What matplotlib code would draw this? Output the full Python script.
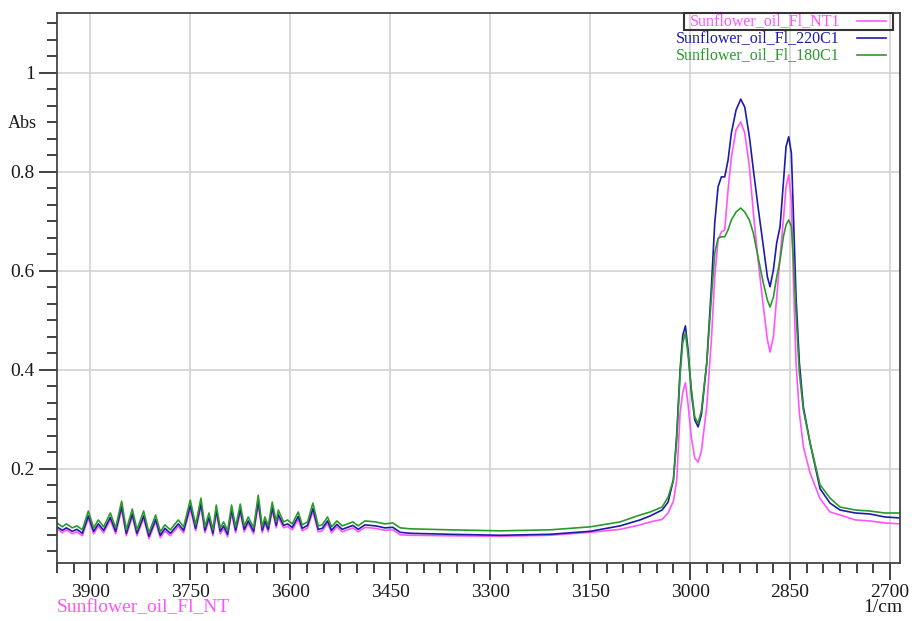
"""
FTIR overlay of sunflower oil spectra (3950 - 2685 1/cm).
"""

import matplotlib
matplotlib.use('Agg')
import matplotlib.pyplot as plt
from matplotlib.ticker import MultipleLocator, FuncFormatter
from matplotlib.patches import Rectangle
from matplotlib.lines import Line2D

plt.rcParams['font.family'] = ['Liberation Serif', 'DejaVu Serif']

# wavenumbers, noisy water-vapour region + flat baseline
wn_noise = [3950, 3942, 3936, 3927, 3920, 3912, 3903, 3895, 3888, 3880,
            3870, 3862, 3853, 3846, 3837, 3830, 3820, 3812, 3802, 3795,
            3788, 3780, 3768, 3760, 3750, 3742, 3734, 3728, 3722, 3716,
            3711, 3705, 3700, 3694, 3688, 3682, 3675, 3669, 3663, 3655,
            3648, 3642, 3638, 3633, 3627, 3621, 3618, 3610, 3604, 3597,
            3588, 3582, 3574, 3566, 3558, 3552, 3544, 3538, 3530, 3522,
            3514, 3506, 3498, 3488, 3472, 3458, 3446, 3435, 3420, 3360,
            3285, 3210, 3150, 3105]

# wavenumbers, C-H stretching region
wn_peaks = [3075, 3060, 3042, 3033, 3025, 3020, 3015, 3011, 3007, 3003,
            2998, 2993, 2988, 2983, 2975, 2968, 2963, 2958, 2953, 2948,
            2943, 2938, 2931, 2924, 2918, 2911, 2905, 2898, 2890, 2884,
            2880, 2875, 2870, 2865, 2860, 2856, 2852, 2848, 2845, 2841,
            2836, 2830, 2820, 2805, 2790, 2775, 2752, 2730, 2708, 2685]

nt_noise = [0.079, 0.071, 0.077, 0.069, 0.073, 0.065, 0.100, 0.069, 0.084, 0.071,
            0.097, 0.069, 0.118, 0.065, 0.104, 0.065, 0.100, 0.059, 0.093, 0.061,
            0.075, 0.065, 0.084, 0.071, 0.120, 0.075, 0.124, 0.071, 0.097, 0.065,
            0.111, 0.069, 0.080, 0.063, 0.111, 0.071, 0.112, 0.073, 0.090, 0.069,
            0.129, 0.071, 0.090, 0.073, 0.116, 0.081, 0.102, 0.081, 0.084, 0.077,
            0.098, 0.075, 0.081, 0.114, 0.073, 0.075, 0.090, 0.071, 0.083, 0.073,
            0.077, 0.081, 0.073, 0.082, 0.080, 0.076, 0.077, 0.067, 0.066, 0.065,
            0.064, 0.066, 0.072, 0.078]
nt_peaks = [0.087, 0.093, 0.098, 0.111, 0.135, 0.178, 0.313, 0.355, 0.374, 0.330,
            0.262, 0.222, 0.214, 0.236, 0.326, 0.461, 0.588, 0.663, 0.679, 0.683,
            0.764, 0.830, 0.885, 0.901, 0.879, 0.811, 0.717, 0.622, 0.527, 0.461,
            0.436, 0.467, 0.547, 0.628, 0.703, 0.770, 0.794, 0.743, 0.582, 0.414,
            0.313, 0.245, 0.192, 0.140, 0.113, 0.107, 0.097, 0.095, 0.091, 0.089]

c220_noise = [0.083, 0.076, 0.081, 0.074, 0.078, 0.070, 0.105, 0.074, 0.089, 0.076,
              0.102, 0.074, 0.124, 0.070, 0.109, 0.070, 0.105, 0.064, 0.098, 0.066,
              0.080, 0.070, 0.089, 0.076, 0.126, 0.080, 0.130, 0.076, 0.102, 0.070,
              0.117, 0.074, 0.085, 0.068, 0.117, 0.076, 0.118, 0.078, 0.095, 0.074,
              0.135, 0.076, 0.095, 0.078, 0.122, 0.086, 0.108, 0.086, 0.089, 0.082,
              0.104, 0.080, 0.086, 0.120, 0.078, 0.080, 0.095, 0.076, 0.088, 0.078,
              0.082, 0.086, 0.078, 0.087, 0.085, 0.081, 0.082, 0.072, 0.070, 0.068,
              0.066, 0.068, 0.074, 0.085]
c220_peaks = [0.097, 0.105, 0.117, 0.133, 0.178, 0.270, 0.400, 0.470, 0.489, 0.440,
              0.353, 0.299, 0.285, 0.310, 0.414, 0.568, 0.697, 0.770, 0.790, 0.790,
              0.824, 0.879, 0.925, 0.947, 0.931, 0.871, 0.804, 0.729, 0.649, 0.588,
              0.568, 0.602, 0.657, 0.689, 0.778, 0.851, 0.871, 0.838, 0.717, 0.547,
              0.414, 0.325, 0.253, 0.160, 0.131, 0.117, 0.111, 0.109, 0.103, 0.101]

c180_noise = [0.091, 0.083, 0.089, 0.081, 0.085, 0.077, 0.115, 0.081, 0.097, 0.083,
              0.111, 0.081, 0.135, 0.077, 0.119, 0.077, 0.115, 0.071, 0.107, 0.073,
              0.087, 0.077, 0.097, 0.083, 0.137, 0.087, 0.141, 0.083, 0.111, 0.077,
              0.127, 0.081, 0.093, 0.075, 0.127, 0.083, 0.129, 0.085, 0.103, 0.081,
              0.147, 0.083, 0.103, 0.085, 0.133, 0.093, 0.117, 0.093, 0.097, 0.089,
              0.113, 0.087, 0.093, 0.131, 0.085, 0.087, 0.103, 0.083, 0.095, 0.085,
              0.089, 0.093, 0.085, 0.095, 0.093, 0.089, 0.091, 0.081, 0.079, 0.077,
              0.075, 0.077, 0.083, 0.093]
c180_peaks = [0.107, 0.113, 0.123, 0.143, 0.178, 0.260, 0.390, 0.455, 0.475, 0.430,
              0.360, 0.305, 0.292, 0.318, 0.414, 0.547, 0.636, 0.666, 0.669, 0.669,
              0.683, 0.703, 0.719, 0.727, 0.719, 0.703, 0.676, 0.628, 0.575, 0.541,
              0.527, 0.547, 0.588, 0.622, 0.669, 0.693, 0.703, 0.690, 0.628, 0.515,
              0.394, 0.319, 0.253, 0.168, 0.141, 0.123, 0.117, 0.115, 0.111, 0.111]

labels = ['Sunflower_oil_Fl_NT1', 'Sunflower_oil_Fl_220C1', 'Sunflower_oil_Fl_180C1']
colors = ['#ff55ff', '#1c1ca8', '#2a9a2a']

W, H = 916, 621


def fx(px):
    return px / W


def fy(py):
    return 1 - py / H


fig = plt.figure(figsize=(9.16, 6.21), dpi=100)
ax = fig.add_axes([fx(57), fy(563), fx(900) - fx(57), fy(13) - fy(563)])

wn = wn_noise + wn_peaks
series = [nt_noise + nt_peaks, c220_noise + c220_peaks, c180_noise + c180_peaks]
for y, c in zip(series, colors):
    ax.plot(wn, y, color=c, lw=1.2, solid_joinstyle='round')

ax.set_xlim(3950, 2685)
ax.set_ylim(0.01, 1.121)

ax.xaxis.set_major_locator(MultipleLocator(150))
ax.xaxis.set_minor_locator(MultipleLocator(25))
ax.yaxis.set_major_locator(MultipleLocator(0.2))
ax.yaxis.set_minor_locator(MultipleLocator(0.2 / 6))
ax.yaxis.set_major_formatter(FuncFormatter(lambda v, p: '%g' % round(v, 2)))

ax.tick_params(which='major', direction='out', length=13, width=1.3,
               color='#333333', labelsize=14, labelcolor='#1a1a1a', pad=3)
ax.tick_params(which='minor', direction='out', length=7, width=1.3, color='#333333')
ax.tick_params(axis='x', which='major', length=12)

ax.grid(True, which='major', color='#cfcfcf', lw=1.1)
ax.set_axisbelow(True)
for s in ax.spines.values():
    s.set_color('#444444')
    s.set_linewidth(1.3)

# axis texts
fig.text(fx(8), fy(124), 'Abs', fontsize=13, color='#1a1a1a', va='center', ha='left')
fig.text(fx(57), fy(608), 'Sunflower_oil_Fl_NT', fontsize=14, color=colors[0],
         va='center', ha='left')
fig.text(fx(902), fy(608), '1/cm', fontsize=14, color='#1a1a1a', va='center', ha='right')

# legend drawn by hand (box only around first entry, as in the source)
leg_rows = [21, 38, 55]
for lab, c, py in zip(labels, colors, leg_rows):
    fig.text(fx(840), fy(py), lab, fontsize=11.5, color=c, va='center', ha='right')
    fig.add_artist(Line2D([fx(857), fx(886)], [fy(py), fy(py)], color=c, lw=1.2))
fig.add_artist(Rectangle((fx(684), fy(30)), fx(893) - fx(684), fy(13) - fy(30),
                         fill=False, edgecolor='#333333', lw=1.5))

fig.savefig('out.png', dpi=100, facecolor='white')
